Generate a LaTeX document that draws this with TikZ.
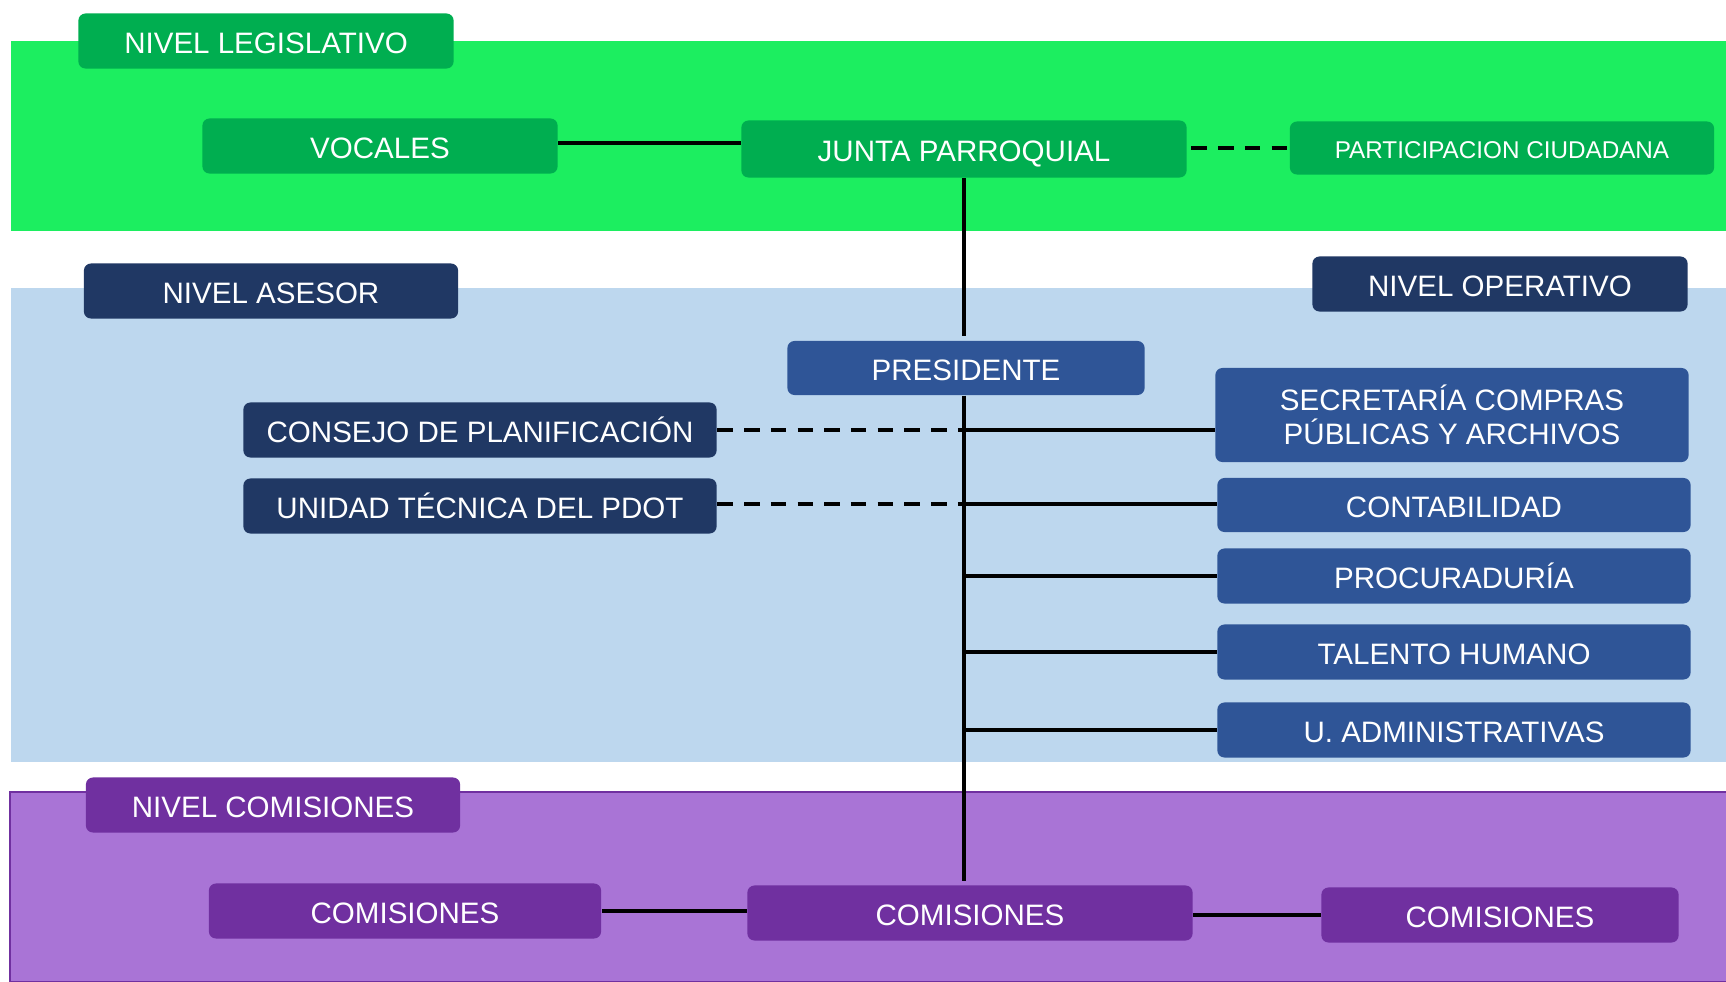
\documentclass[tikz,border=0pt]{standalone}
\usepackage{fontspec}
\setmainfont{Liberation Sans}
\usepackage{tikz}
\usetikzlibrary{positioning}
\definecolor{bandgreen}{RGB}{28,238,96}
\definecolor{boxgreen}{RGB}{0,174,80}
\definecolor{bandblue}{RGB}{189,215,238}
\definecolor{boxnavy}{RGB}{32,56,100}
\definecolor{boxblue}{RGB}{47,85,151}
\definecolor{bandpurple}{RGB}{169,116,214}
\definecolor{boxpurple}{RGB}{112,48,160}

\tikzset{
  unitbox/.style={rounded corners=2pt, text=white, inner sep=0pt, align=center,
    font=\fontsize{8.4}{9.8}\selectfont, text height=7.2pt, text depth=0pt},
  greenbox/.style={unitbox, fill=boxgreen},
  navybox/.style={unitbox, fill=boxnavy},
  bluebox/.style={unitbox, fill=boxblue},
  purplebox/.style={unitbox, fill=boxpurple},
  link/.style={line width=1pt},
  dlink/.style={line width=1pt, dash pattern=on 4.4pt off 3.2pt}
}

\begin{document}
\begin{tikzpicture}[x=0.01cm, y=-0.01cm]
  \useasboundingbox (0,0) rectangle (1726,981);
  % level bands
  \fill[bandgreen] (11,41) rectangle (1726,231);
  \fill[bandblue] (11,288) rectangle (1726,762);
  \filldraw[fill=bandpurple, draw=boxpurple, line width=0.6pt] (10,792) rectangle (1727,982);

  % legislative level
  \node[greenbox, minimum width=3.75cm, minimum height=0.55cm] (lvlleg) at (266,41) {NIVEL LEGISLATIVO};
  \node[greenbox, minimum width=3.55cm, minimum height=0.55cm] (vocales) at (380,146) {VOCALES};
  \node[greenbox, minimum width=4.45cm, minimum height=0.57cm] (junta) at (964,149) {JUNTA PARROQUIAL};
  \node[greenbox, minimum width=4.24cm, minimum height=0.53cm, text height=6pt,
        font=\fontsize{6.9}{8}\selectfont] (partic) at (1502,148) {PARTICIPACION CIUDADANA};

  % advisory and operative level
  \node[navybox, minimum width=3.74cm, minimum height=0.55cm] (lvlase) at (271,291) {NIVEL ASESOR};
  \node[navybox, minimum width=3.75cm, minimum height=0.55cm] (lvlope) at (1500,284) {NIVEL OPERATIVO};
  \node[bluebox, minimum width=3.57cm, minimum height=0.54cm] (pres) at (966,368) {PRESIDENTE};
  \node[navybox, minimum width=4.73cm, minimum height=0.55cm] (consejo) at (480,430) {CONSEJO DE PLANIFICACIÓN};
  \node[navybox, minimum width=4.73cm, minimum height=0.55cm] (unidad) at (480,506) {UNIDAD TÉCNICA DEL PDOT};
  \node[bluebox, minimum width=4.73cm, minimum height=0.94cm, text height={}, text depth={}] (secre) at (1452,415) {SECRETARÍA COMPRAS\\PÚBLICAS Y ARCHIVOS};
  \node[bluebox, minimum width=4.73cm, minimum height=0.54cm] (conta) at (1454,505) {CONTABILIDAD};
  \node[bluebox, minimum width=4.73cm, minimum height=0.55cm] (procu) at (1454,576) {PROCURADURÍA};
  \node[bluebox, minimum width=4.73cm, minimum height=0.55cm] (talento) at (1454,652) {TALENTO HUMANO};
  \node[bluebox, minimum width=4.73cm, minimum height=0.55cm] (uadmin) at (1454,730) {U. ADMINISTRATIVAS};

  % commissions level
  \node[purplebox, minimum width=3.74cm, minimum height=0.55cm] (lvlcom) at (273,805) {NIVEL COMISIONES};
  \node[purplebox, minimum width=3.92cm, minimum height=0.55cm] (comleft) at (405,911) {COMISIONES};
  \node[purplebox, minimum width=4.45cm, minimum height=0.55cm] (commid) at (970,913) {COMISIONES};
  \node[purplebox, minimum width=3.57cm, minimum height=0.55cm] (comright) at (1500,915) {COMISIONES};

  % connectors
  \draw[link] (junta.south) -- ([yshift=1.2pt]junta.south |- pres.north);
  \draw[link] (junta.south |- pres.south) -- ([yshift=1pt]junta.south |- commid.north);
  \draw[link] ([yshift=0.03cm]vocales.east) -- ([yshift=0.03cm]vocales.east -| junta.west);
  \draw[dlink] ([xshift=0.04cm]junta.east |- partic.west) -- (partic.west);
  \draw[dlink] (consejo.east) -- (consejo.east -| junta.south);
  \draw[link] (consejo.east -| junta.south) -- (consejo.east -| secre.west);
  \draw[dlink] ([yshift=0.02cm]unidad.east) -- ([yshift=0.02cm]unidad.east -| junta.south);
  \draw[link] ([yshift=0.02cm]unidad.east -| junta.south) -- ([yshift=0.02cm]unidad.east -| conta.west);
  \foreach \unit in {procu,talento,uadmin}
    \draw[link] (\unit.west -| junta.south) -- (\unit.west);
  \draw[link] (comleft.east) -- (comleft.east -| commid.west);
  \draw[link] (commid.east |- comright.west) -- (comright.west);
\end{tikzpicture}
\end{document}
